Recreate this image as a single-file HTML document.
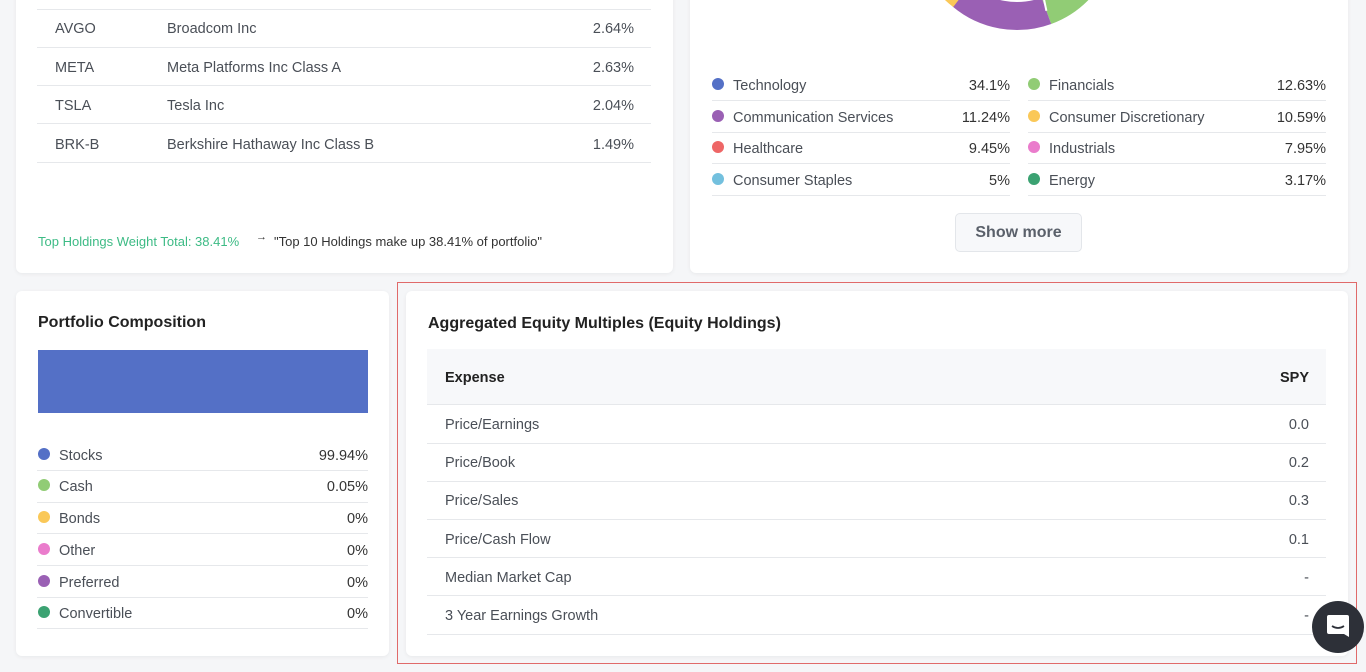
<!DOCTYPE html>
<html><head><style>
body{margin:0;width:1366px;height:672px;background:#f5f6f8;font-family:"Liberation Sans",sans-serif;position:relative;overflow:hidden;color:#4a4f57}
.card{position:absolute;background:#fff;border-radius:6px;box-shadow:0 1px 4px rgba(0,0,0,.06)}
.a{position:absolute;white-space:nowrap;font-size:14.5px;margin-top:2px}
.ln{position:absolute;height:1px;background:#e6e8eb}
.dot{position:absolute;width:12px;height:12px;border-radius:50%;margin-top:-1px}
.r{text-align:right}
</style></head><body>
<div class="card" style="left:16px;top:-10px;width:657px;height:283px"></div>
<div class="card" style="left:690px;top:-10px;width:658px;height:283px"></div>
<div class="card" style="left:16px;top:291px;width:373px;height:365px"></div>
<div style="position:absolute;left:397px;top:282px;width:958px;height:380px;border:1px solid #e06a6a"></div>
<div class="card" style="left:406px;top:291px;width:942px;height:365px"></div>

<!-- top holdings -->
<div class="ln" style="left:37px;top:9px;width:614px"></div>
<div class="ln" style="left:37px;top:47px;width:614px"></div>
<div class="ln" style="left:37px;top:85px;width:614px"></div>
<div class="ln" style="left:37px;top:123px;width:614px"></div>
<div class="ln" style="left:37px;top:162px;width:614px"></div>
<div class="a" style="left:55px;top:19px">AVGO</div><div class="a" style="left:167px;top:19px">Broadcom Inc</div><div class="a r" style="right:732px;top:19px">2.64%</div>
<div class="a" style="left:55px;top:58px">META</div><div class="a" style="left:167px;top:58px">Meta Platforms Inc Class A</div><div class="a r" style="right:732px;top:58px">2.63%</div>
<div class="a" style="left:55px;top:96px">TSLA</div><div class="a" style="left:167px;top:96px">Tesla Inc</div><div class="a r" style="right:732px;top:96px">2.04%</div>
<div class="a" style="left:55px;top:135px">BRK-B</div><div class="a" style="left:167px;top:135px">Berkshire Hathaway Inc Class B</div><div class="a r" style="right:732px;top:135px">1.49%</div>
<div class="a" style="left:38px;top:232px;font-size:13px;color:#3dbb85">Top Holdings Weight Total: 38.41%</div>
<div class="a" style="left:256px;top:229px;font-size:11px;color:#333">→</div>
<div class="a" style="left:274px;top:232px;font-size:13px;color:#333">"Top 10 Holdings make up 38.41% of portfolio"</div>

<!-- donut -->
<svg style="position:absolute;left:0;top:0" width="1366" height="60">
<path d="M1097.8,-40.6 A86,86 0 0 1 1046.4,10.8" fill="none" stroke="#91cc75" stroke-width="28"/>
<path d="M1046.4,10.8 A86,86 0 0 1 961.7,-4.1" fill="none" stroke="#9a60b4" stroke-width="28"/>
<path d="M961.7,-4.1 A86,86 0 0 1 938,-32" fill="none" stroke="#fac858" stroke-width="28"/>
<line x1="1046.4" y1="10.8" x2="1040" y2="-20" stroke="#fff" stroke-width="2"/>
<line x1="961.7" y1="-4.1" x2="975" y2="-30" stroke="#fff" stroke-width="2"/>
</svg>

<!-- sector legend -->
<div class="ln" style="left:712px;top:100px;width:298px"></div><div class="ln" style="left:1028px;top:100px;width:298px"></div>
<div class="ln" style="left:712px;top:132px;width:298px"></div><div class="ln" style="left:1028px;top:132px;width:298px"></div>
<div class="ln" style="left:712px;top:163px;width:298px"></div><div class="ln" style="left:1028px;top:163px;width:298px"></div>
<div class="ln" style="left:712px;top:195px;width:298px"></div><div class="ln" style="left:1028px;top:195px;width:298px"></div>
<div class="dot" style="left:712px;top:79px;background:#5470c6"></div><div class="a" style="left:733px;top:76px">Technology</div><div class="a r" style="right:356px;top:76px;color:#333">34.1%</div>
<div class="dot" style="left:1028px;top:79px;background:#91cc75"></div><div class="a" style="left:1049px;top:76px">Financials</div><div class="a r" style="right:40px;top:76px;color:#333">12.63%</div>
<div class="dot" style="left:712px;top:111px;background:#9a60b4"></div><div class="a" style="left:733px;top:108px">Communication Services</div><div class="a r" style="right:356px;top:108px;color:#333">11.24%</div>
<div class="dot" style="left:1028px;top:111px;background:#fac858"></div><div class="a" style="left:1049px;top:108px">Consumer Discretionary</div><div class="a r" style="right:40px;top:108px;color:#333">10.59%</div>
<div class="dot" style="left:712px;top:142px;background:#ee6666"></div><div class="a" style="left:733px;top:139px">Healthcare</div><div class="a r" style="right:356px;top:139px;color:#333">9.45%</div>
<div class="dot" style="left:1028px;top:142px;background:#ea7ccc"></div><div class="a" style="left:1049px;top:139px">Industrials</div><div class="a r" style="right:40px;top:139px;color:#333">7.95%</div>
<div class="dot" style="left:712px;top:174px;background:#73c0de"></div><div class="a" style="left:733px;top:171px">Consumer Staples</div><div class="a r" style="right:356px;top:171px;color:#333">5%</div>
<div class="dot" style="left:1028px;top:174px;background:#3ba272"></div><div class="a" style="left:1049px;top:171px">Energy</div><div class="a r" style="right:40px;top:171px;color:#333">3.17%</div>
<div style="position:absolute;left:955px;top:213px;width:125px;height:37px;border:1px solid #e3e6ea;border-radius:5px;background:#f7f8fa;font-size:16px;font-weight:bold;color:#5a606a;text-align:center;line-height:38px">Show more</div>

<!-- portfolio composition -->
<div class="a" style="left:38px;top:312px;font-size:16px;font-weight:bold;color:#222">Portfolio Composition</div>
<div style="position:absolute;left:38px;top:350px;width:330px;height:63px;background:#5470c6"></div>
<div class="ln" style="left:37px;top:470px;width:331px"></div>
<div class="ln" style="left:37px;top:502px;width:331px"></div>
<div class="ln" style="left:37px;top:533px;width:331px"></div>
<div class="ln" style="left:37px;top:565px;width:331px"></div>
<div class="ln" style="left:37px;top:597px;width:331px"></div>
<div class="ln" style="left:37px;top:628px;width:331px"></div>
<div class="dot" style="left:38px;top:449px;background:#5470c6"></div><div class="a" style="left:59px;top:446px">Stocks</div><div class="a r" style="right:998px;top:446px;color:#333">99.94%</div>
<div class="dot" style="left:38px;top:480px;background:#91cc75"></div><div class="a" style="left:59px;top:477px">Cash</div><div class="a r" style="right:998px;top:477px;color:#333">0.05%</div>
<div class="dot" style="left:38px;top:512px;background:#fac858"></div><div class="a" style="left:59px;top:509px">Bonds</div><div class="a r" style="right:998px;top:509px;color:#333">0%</div>
<div class="dot" style="left:38px;top:544px;background:#ea7ccc"></div><div class="a" style="left:59px;top:541px">Other</div><div class="a r" style="right:998px;top:541px;color:#333">0%</div>
<div class="dot" style="left:38px;top:576px;background:#9a60b4"></div><div class="a" style="left:59px;top:573px">Preferred</div><div class="a r" style="right:998px;top:573px;color:#333">0%</div>
<div class="dot" style="left:38px;top:607px;background:#3ba272"></div><div class="a" style="left:59px;top:604px">Convertible</div><div class="a r" style="right:998px;top:604px;color:#333">0%</div>

<!-- equity multiples -->
<div class="a" style="left:428px;top:313px;font-size:16px;font-weight:bold;color:#222">Aggregated Equity Multiples (Equity Holdings)</div>
<div style="position:absolute;left:427px;top:349px;width:899px;height:55px;background:#f7f8fa;border-bottom:1px solid #e6e8eb"></div>
<div class="a" style="left:445px;top:368px;font-weight:bold;color:#222">Expense</div><div class="a r" style="right:57px;top:368px;font-weight:bold;color:#222">SPY</div>
<div class="ln" style="left:427px;top:443px;width:899px"></div>
<div class="ln" style="left:427px;top:481px;width:899px"></div>
<div class="ln" style="left:427px;top:519px;width:899px"></div>
<div class="ln" style="left:427px;top:557px;width:899px"></div>
<div class="ln" style="left:427px;top:595px;width:899px"></div>
<div class="ln" style="left:427px;top:634px;width:899px"></div>
<div class="a" style="left:445px;top:415px">Price/Earnings</div><div class="a r" style="right:57px;top:415px">0.0</div>
<div class="a" style="left:445px;top:453px">Price/Book</div><div class="a r" style="right:57px;top:453px">0.2</div>
<div class="a" style="left:445px;top:491px">Price/Sales</div><div class="a r" style="right:57px;top:491px">0.3</div>
<div class="a" style="left:445px;top:530px">Price/Cash Flow</div><div class="a r" style="right:57px;top:530px">0.1</div>
<div class="a" style="left:445px;top:568px">Median Market Cap</div><div class="a r" style="right:57px;top:568px">-</div>
<div class="a" style="left:445px;top:606px">3 Year Earnings Growth</div><div class="a r" style="right:57px;top:606px">-</div>

<!-- chat -->
<div style="position:absolute;left:1312px;top:601px;width:52px;height:52px;border-radius:50%;background:#2d3038"></div>
<svg style="position:absolute;left:1326px;top:614px" width="24" height="26"><path d="M3,1 H21 Q23,1 23,3 V23 L18,20 H3 Q1,20 1,18 V3 Q1,1 3,1Z" fill="#fff"/><path d="M6,12 Q12,16 18,12" stroke="#2d3038" stroke-width="1.8" fill="none"/></svg>
</body></html>
